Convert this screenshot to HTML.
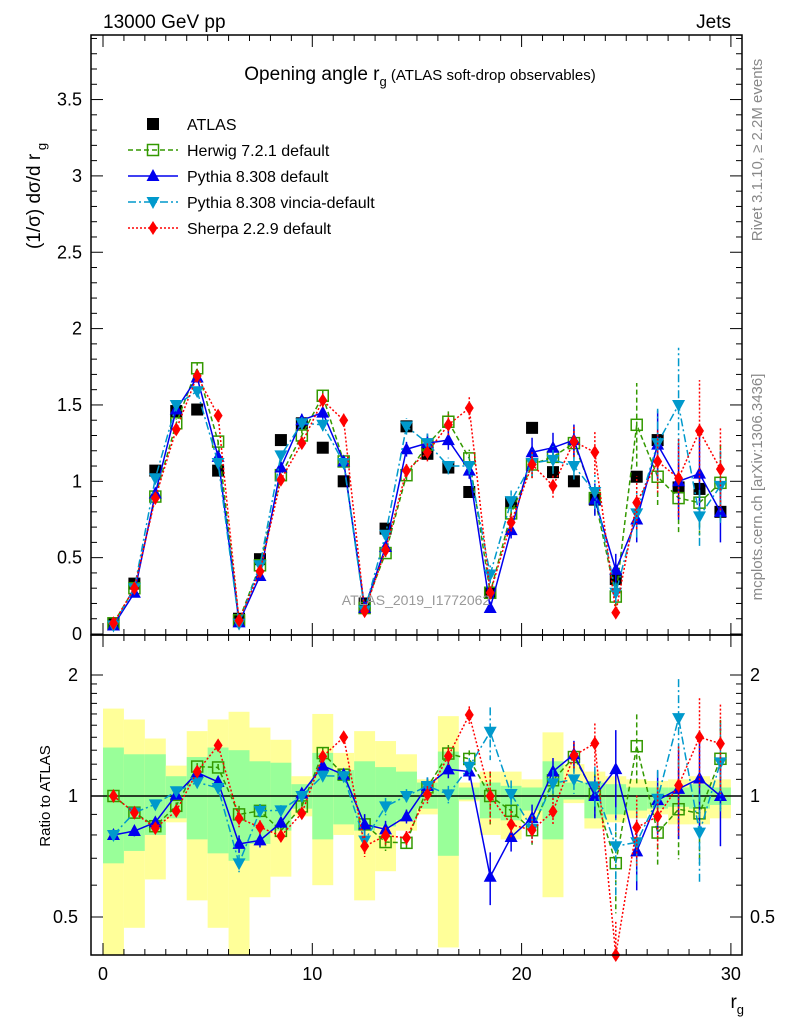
<!DOCTYPE html>
<html><head><meta charset="utf-8"><style>
body{margin:0;background:#fff;}
svg{font-family:"Liberation Sans",sans-serif;}
</style></head><body>
<svg id="c" width="786" height="1024" viewBox="0 0 786 1024" xmlns="http://www.w3.org/2000/svg">
<rect x="0" y="0" width="786" height="1024" fill="#fff"/>
<g id="bands"></g>
<g id="plot"></g>
<g id="axes"></g>
<text x="103" y="28" font-size="19">13000 GeV pp</text>
<text x="731" y="28" font-size="19" text-anchor="end">Jets</text>
<text transform="translate(40,196) rotate(-90)" font-size="19" text-anchor="middle">(1/σ) dσ/d r<tspan dy="6" font-size="13"> g</tspan></text>
<text x="420" y="80" font-size="19" text-anchor="middle">Opening angle r<tspan dy="6" font-size="13">g</tspan><tspan dy="-6" font-size="15"> (ATLAS soft-drop observables)</tspan></text>
<text transform="translate(762,150) rotate(-90)" font-size="15" fill="#888" text-anchor="middle">Rivet 3.1.10, ≥ 2.2M events</text>
<text transform="translate(762,487) rotate(-90)" font-size="15" fill="#888" text-anchor="middle">mcplots.cern.ch [arXiv:1306.3436]</text>
<text x="416" y="605" font-size="14" fill="#999" text-anchor="middle">ATLAS_2019_I1772062</text>
<text transform="translate(50,796) rotate(-90)" font-size="15" text-anchor="middle">Ratio to ATLAS</text>
<text x="744" y="1008" font-size="19" text-anchor="end">r<tspan dy="6" font-size="13">g</tspan></text>
<g id="legend"></g>
</svg>
<script>
const bins=[0.5,1.5,2.5,3.5,4.5,5.5,6.5,7.5,8.5,9.5,10.5,11.5,12.5,13.5,14.5,15.5,16.5,17.5,18.5,19.5,20.5,21.5,22.5,23.5,24.5,25.5,26.5,27.5,28.5,29.5];
const atlas=[0.07,0.33,1.07,1.46,1.47,1.07,0.10,0.49,1.27,1.38,1.22,1.00,0.20,0.69,1.36,1.18,1.09,0.93,0.27,0.86,1.35,1.06,1.00,0.88,0.36,1.03,1.27,0.96,0.95,0.80];
const herwig=[0.07,0.30,0.90,1.38,1.74,1.26,0.09,0.45,1.04,1.30,1.56,1.13,0.17,0.53,1.04,1.24,1.39,1.15,0.27,0.79,1.11,1.16,1.25,0.89,0.245,1.37,1.03,0.89,0.86,0.99];
const pythia=[0.056,0.27,0.92,1.47,1.68,1.16,0.076,0.38,1.09,1.40,1.45,1.13,0.17,0.57,1.21,1.25,1.27,1.07,0.17,0.68,1.19,1.22,1.27,0.88,0.42,0.75,1.24,1.00,1.05,0.80];
const vincia=[0.056,0.30,1.02,1.50,1.59,1.12,0.068,0.45,1.17,1.38,1.37,1.12,0.155,0.65,1.36,1.25,1.10,1.10,0.39,0.87,1.12,1.14,1.10,0.93,0.27,0.79,1.25,1.50,0.77,0.97];
const sherpa=[0.07,0.30,0.89,1.34,1.69,1.43,0.088,0.41,1.01,1.25,1.53,1.40,0.15,0.55,1.07,1.19,1.37,1.48,0.27,0.73,1.11,0.97,1.26,1.19,0.14,0.86,1.13,1.02,1.33,1.08];
const mcRelErr=[0.03,0.03,0.02,0.02,0.02,0.02,0.05,0.04,0.03,0.03,0.03,0.03,0.06,0.05,0.04,0.05,0.05,0.05,0.15,0.08,0.08,0.08,0.08,0.12,0.25,0.2,0.18,0.25,0.25,0.25];
const totUp=[1.65,1.55,1.39,1.19,1.45,1.55,1.62,1.48,1.38,1.12,1.60,1.28,1.45,1.37,1.27,1.10,1.58,1.08,1.15,1.15,1.10,1.44,1.20,1.15,1.12,1.10,1.09,1.10,1.12,1.10];
const totDn=[0.33,0.47,0.62,0.86,0.55,0.47,0.40,0.56,0.63,0.89,0.60,0.80,0.55,0.65,0.82,0.90,0.42,0.97,0.80,0.78,0.87,0.56,0.96,0.83,0.86,0.88,0.90,0.85,0.85,0.88];
const expUp=[1.32,1.27,1.27,1.12,1.25,1.32,1.30,1.22,1.21,1.07,1.28,1.16,1.22,1.18,1.15,1.08,1.29,1.05,1.08,1.06,1.05,1.22,1.08,1.08,1.07,1.05,1.05,1.05,1.07,1.05];
const expDn=[0.68,0.73,0.80,0.88,0.78,0.72,0.69,0.76,0.82,0.93,0.78,0.85,0.82,0.84,0.87,0.93,0.71,0.98,0.88,0.87,0.92,0.78,0.98,0.88,0.90,0.92,0.93,0.94,0.93,0.95];
const mainTicks=["0","0.5","1","1.5","2","2.5","3","3.5"];
const ratioTicks=["0.5","1","2"];
const xTicks=["0","10","20","30"];

const L=91,R=742,T=35,M=635,B=955;
const X=v=>103+v*20.93;
const Y=v=>634-v*152.7;
const RY=r=>796-121*Math.log2(r);
const NS="http://www.w3.org/2000/svg";
function mk(tag,attrs,parent){const e=document.createElementNS(NS,tag);for(const k in attrs)e.setAttribute(k,attrs[k]);parent.appendChild(e);return e;}
const gB=document.getElementById('bands'),gP=document.getElementById('plot'),gA=document.getElementById('axes'),gL=document.getElementById('legend');
bins.forEach((b,i)=>{
  const x0=X(b-0.5),w=20.93;
  const y1=Math.max(RY(totUp[i]),M),y2=Math.min(RY(totDn[i]),B);
  const r1=mk('rect',{x:x0,y:y1,width:w,height:y2-y1,fill:'#ffff99'},gB);
  
  
  const r2=mk('rect',{x:x0,y:RY(expUp[i]),width:w,height:RY(expDn[i])-RY(expUp[i]),fill:'#99ff99'},gB);
  
  
});
const unity=mk('line',{x1:L,x2:R,y1:RY(1),y2:RY(1),stroke:'#000','stroke-width':1.5},gB);


function marker(type,x,y,color,parent){
  let e;
  if(type==='sq') e=mk('rect',{x:x-6,y:y-6,width:12,height:12,fill:'#000'},parent);
  else if(type==='osq') e=mk('rect',{x:x-5.5,y:y-5.5,width:11,height:11,fill:'none',stroke:color,'stroke-width':1.5},parent);
  else if(type==='tri') e=mk('polygon',{points:`${x},${y-7} ${x-6.5},${y+5} ${x+6.5},${y+5}`,fill:color},parent);
  else if(type==='itri') e=mk('polygon',{points:`${x},${y+7} ${x-6.5},${y-5} ${x+6.5},${y-5}`,fill:color},parent);
  else e=mk('polygon',{points:`${x},${y-7} ${x-4.5},${y} ${x},${y+7} ${x+4.5},${y}`,fill:color},parent);
  return e;
}
const series=[
  {name:'herwig',vals:herwig,color:'#339900',dash:'5,3',m:'osq'},
  {name:'pythia',vals:pythia,color:'#0000ee',dash:'',m:'tri'},
  {name:'vincia',vals:vincia,color:'#0099cc',dash:'8,3,2,3',m:'itri'},
  {name:'sherpa',vals:sherpa,color:'#ff0000',dash:'2,2',m:'dia'}
];
bins.forEach((b,i)=>{
  const e=marker('sq',X(b),Y(atlas[i]),'#000',gP);
  
  
});
series.forEach(s=>{
  const pm=bins.map((b,i)=>X(b)+','+Y(s.vals[i])).join(' ');
  const pl=mk('polyline',{points:pm,fill:'none',stroke:s.color,'stroke-width':1.5,'stroke-dasharray':s.dash},gP);
  
  
  const rat=s.vals.map((v,i)=>v/atlas[i]);
  const pr=bins.map((b,i)=>X(b)+','+Math.min(Math.max(RY(rat[i]),M),B)).join(' ');
  const pl2=mk('polyline',{points:pr,fill:'none',stroke:s.color,'stroke-width':1.5,'stroke-dasharray':s.dash},gP);
  
  
  bins.forEach((b,i)=>{
    const v=s.vals[i],e=v*mcRelErr[i];
    const eb=mk('line',{x1:X(b),x2:X(b),y1:Y(v-e),y2:Y(v+e),stroke:s.color,'stroke-width':1.5,'stroke-dasharray':s.dash},gP);
    
    
    const r=rat[i],re=r*mcRelErr[i];
    const eb2=mk('line',{x1:X(b),x2:X(b),y1:Math.max(RY(r+re),M),y2:Math.min(RY(Math.max(r-re,0.3)),B),stroke:s.color,'stroke-width':1.5,'stroke-dasharray':s.dash},gP);
    
    
    const m1=marker(s.m,X(b),Y(v),s.color,gP);
    
    
    const m2=marker(s.m,X(b),Math.min(Math.max(RY(r),M),B),s.color,gP);
    
    
  });
});
[[T,M],[M,B]].forEach(([a,b])=>{
  const f=mk('rect',{x:L,y:a,width:R-L,height:b-a,fill:'none',stroke:'#000','stroke-width':1.5},gA);
  
  
});
for(let v=0;v<=30;v++){
  const len=v%10===0?12:6;
  [[B,-1],[M,-1],[M,1],[T,1]].forEach(([y,d])=>{mk('line',{x1:X(v),x2:X(v),y1:y,y2:y+d*len,stroke:'#000'},gA);});
}
xTicks.forEach(t=>{
  const e=mk('text',{x:X(+t),y:980,'font-size':18,'text-anchor':'middle'},gA);e.textContent=t;
  
  
});
for(let k=0;k<=39;k++){
  const v=k*0.1,y=Y(v);if(y<T)break;
  const len=k%5===0?12:6;
  mk('line',{x1:L,x2:L+len,y1:y,y2:y,stroke:'#000'},gA);
  mk('line',{x1:R,x2:R-len,y1:y,y2:y,stroke:'#000'},gA);
}
mainTicks.forEach(t=>{
  const e=mk('text',{x:82,y:Y(+t)+6,'font-size':18,'text-anchor':'end'},gA);e.textContent=t;
  
  
});
[0.5,0.6,0.7,0.8,0.9,1,1.1,1.2,1.3,1.4,1.5,1.6,1.7,1.8,1.9,2].forEach(v=>{
  const len=(v===0.5||v===1||v===2)?12:6,y=RY(v);
  mk('line',{x1:L,x2:L+len,y1:y,y2:y,stroke:'#000'},gA);
  mk('line',{x1:R,x2:R-len,y1:y,y2:y,stroke:'#000'},gA);
});
ratioTicks.forEach(t=>{
  const e=mk('text',{x:78,y:RY(+t)+6,'font-size':18,'text-anchor':'end'},gA);e.textContent=t;
  
  
  const e2=mk('text',{x:750,y:RY(+t)+6,'font-size':18},gA);e2.textContent=t;
  
  
});
const leg=[['ATLAS','#000','','sq'],['Herwig 7.2.1 default','#339900','5,3','osq'],['Pythia 8.308 default','#0000ee','','tri'],['Pythia 8.308 vincia-default','#0099cc','8,3,2,3','itri'],['Sherpa 2.2.9 default','#ff0000','2,2','dia']];
leg.forEach((l,i)=>{
  const y=124+i*26;
  const g=mk('g',{},gL);
  
  
  if(i>0)mk('line',{x1:128,x2:178,y1:y,y2:y,stroke:l[1],'stroke-width':1.5,'stroke-dasharray':l[2]},g);
  marker(l[3],153,y,l[1],g);
  const t=mk('text',{x:187,y:y+6,'font-size':16},g);t.textContent=l[0];
});
</script>
</body></html>
